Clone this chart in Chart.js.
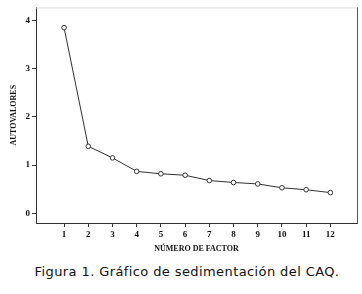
<!DOCTYPE html>
<html>
<head>
<meta charset="utf-8">
<script src="https://cdn.jsdelivr.net/npm/chart.js@4"></script>
<style>
  body { margin: 0; background: #fff; width: 362px; height: 294px; overflow: hidden; }
  #wrap { position: absolute; left: 0; top: 0; width: 362px; height: 258px; }
  #caption {
    position: absolute; left: 6px; top: 264px; width: 362px; text-align: center;
    font-family: "DejaVu Sans", sans-serif; font-size: 13px; letter-spacing: 0.4px; color: #111;
  }
</style>
</head>
<body>
<div id="wrap"><canvas id="screeChart" width="362" height="258"></canvas></div>
<div id="caption">Figura 1. Gráfico de sedimentación del CAQ.</div>
<script>
const factors = [1, 2, 3, 4, 5, 6, 7, 8, 9, 10, 11, 12];
const eigenvalues = [3.85, 1.39, 1.15, 0.87, 0.82, 0.79, 0.68, 0.64, 0.61, 0.53, 0.49, 0.43];
const yTicks = [0, 1, 2, 3, 4];

const tickFont = { family: "'Liberation Serif', 'Times New Roman', serif", size: 9, weight: "bold" };

// frame lines on top and right of the plot
const framePlugin = {
  id: "frame",
  afterDraw(c) {
    const a = c.chartArea;
    const ctx = c.ctx;
    ctx.save();
    ctx.lineWidth = 1;
    ctx.strokeStyle = "#dcdcdc";
    ctx.beginPath();
    ctx.moveTo(a.left, a.top + 0.5);
    ctx.lineTo(a.right, a.top + 0.5);
    ctx.stroke();
    ctx.strokeStyle = "#555";
    ctx.beginPath();
    ctx.moveTo(a.right + 0.5, a.top);
    ctx.lineTo(a.right + 0.5, a.bottom);
    ctx.stroke();
    ctx.restore();
  }
};

const ctx = document.getElementById("screeChart");

new Chart(ctx, {
  type: "line",
  data: {
    datasets: [{
      label: "Autovalores",
      data: factors.map((f, i) => ({ x: f, y: eigenvalues[i] })),
      borderColor: "#333",
      borderWidth: 1,
      pointRadius: 2.3,
      pointBackgroundColor: "#fff",
      pointBorderColor: "#333",
      pointBorderWidth: 1,
      tension: 0
    }]
  },
  options: {
    responsive: false,
    animation: false,
    layout: { padding: { top: 5, right: 3, left: 0, bottom: 0 } },
    plugins: { legend: { display: false }, tooltip: { enabled: false } },
    scales: {
      x: {
        type: "linear",
        min: -0.16,
        max: 13.1,
        afterBuildTicks: s => { s.ticks = factors.map(v => ({ value: v })); },
        afterFit: s => { s.height = 35; },
        grid: { drawOnChartArea: false, tickLength: 4, color: "#333" },
        border: { color: "#333", width: 1 },
        ticks: { font: tickFont, color: "#111", padding: 2, maxRotation: 0 },
        title: {
          display: true, text: "NÚMERO DE FACTOR", color: "#111",
          font: { family: "'Liberation Serif', 'Times New Roman', serif", size: 8, weight: "bold" },
          padding: { top: 1 }
        }
      },
      y: {
        min: -0.2,
        max: 4.27,
        afterBuildTicks: s => { s.ticks = yTicks.map(v => ({ value: v })); },
        afterFit: s => { s.width = 36; },
        grid: { drawOnChartArea: false, tickLength: 4, color: "#333" },
        border: { color: "#333", width: 1 },
        ticks: { font: tickFont, color: "#111", padding: 2 },
        title: {
          display: true, text: "AUTOVALORES", color: "#111",
          font: { family: "'Liberation Serif', 'Times New Roman', serif", size: 8, weight: "bold" },
          padding: { top: 9 }
        }
      }
    }
  },
  plugins: [framePlugin]
});
</script>
</body>
</html>
